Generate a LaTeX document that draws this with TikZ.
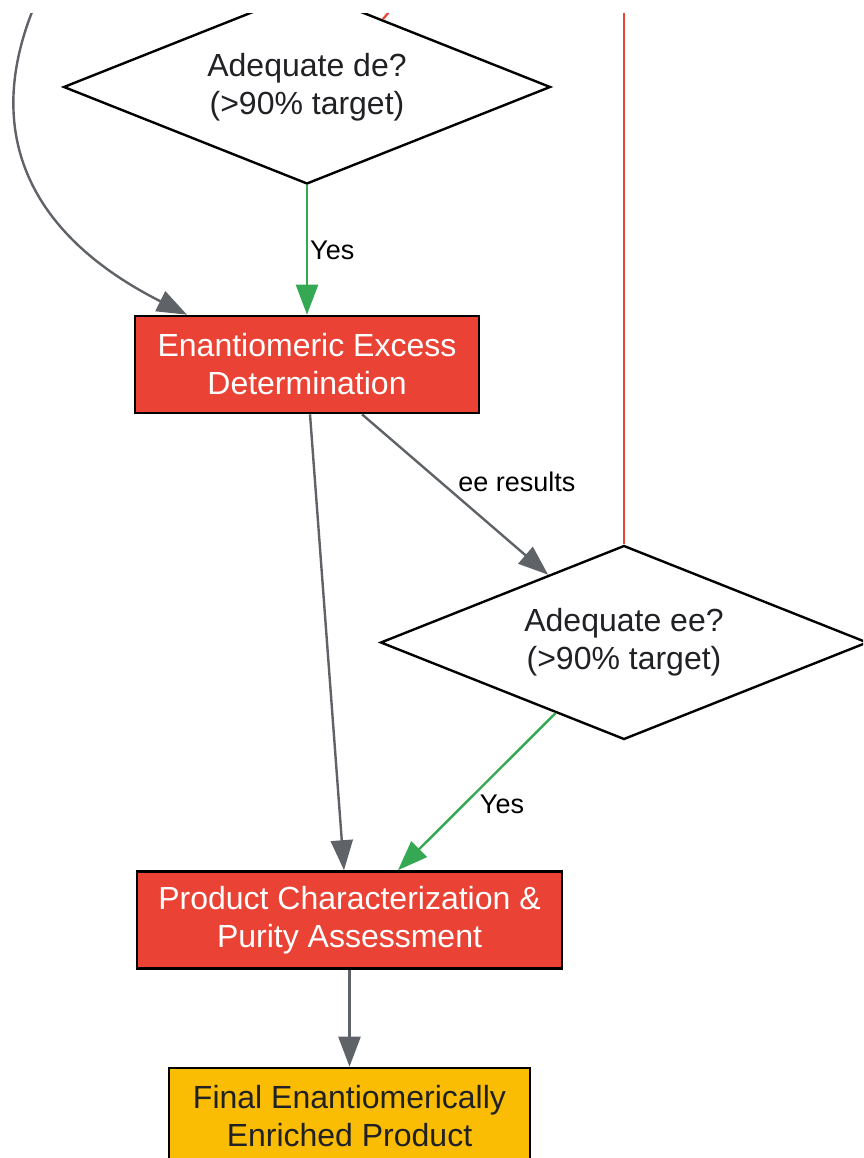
\documentclass[tikz,border=0pt]{standalone}
\usepackage{fontspec}
\setmainfont{Liberation Sans}
\usetikzlibrary{shapes.geometric,arrows.meta,calc}
\definecolor{gred}{HTML}{EA4335}
\definecolor{ggreen}{HTML}{34A853}
\definecolor{ggray}{HTML}{5F6368}
\definecolor{gyellow}{HTML}{FBBC04}
\definecolor{gtext}{HTML}{202124}
\tikzset{
  x=1pt, y=-1pt,
  nodefont/.style={font=\fontsize{32}{38}\selectfont, align=center},
  decision/.style={nodefont, diamond, draw=black, line width=2.4pt, fill=white, text=gtext,
    inner sep=0pt, aspect=2.5, minimum width=487pt, minimum height=194pt},
  redbox/.style={nodefont, rectangle, draw=black, line width=2.6pt, fill=gred, text=white,
    inner sep=0pt},
  yellowbox/.style={nodefont, rectangle, draw=black, line width=2.6pt, fill=gyellow, text=gtext,
    inner sep=0pt},
  tip/.style={-{Triangle[length=30pt,width=22pt]}},
  grayedge/.style={tip, draw=ggray, line width=2.4pt},
  greenedge/.style={tip, draw=ggreen, line width=2.4pt},
  rededge/.style={draw=gred, line width=2.2pt},
  elabel/.style={font=\fontsize{27}{32}\selectfont, text=black, inner sep=2pt},
}
\begin{document}
\begin{tikzpicture}
\useasboundingbox (0,0) rectangle (863,1158);
\begin{scope}
\clip (0,14) rectangle (863,1158);

\node[decision] (de) at (307,87) {Adequate de?\\(>90\% target)};
\node[redbox, minimum width=344pt, minimum height=97pt] (eed) at (307,364.5) {Enantiomeric Excess\\Determination};
\node[decision] (ee) at (624,642.5) {Adequate ee?\\(>90\% target)};
\node[redbox, minimum width=425pt, minimum height=97pt] (pc) at (349.5,920) {Product Characterization \&\\Purity Assessment};
\node[yellowbox, minimum width=361pt, minimum height=97pt] (fin) at (349.5,1116.5) {Final Enantiomerically\\Enriched Product};

\coordinate (curvestart) at (32,12);
\coordinate (redtop1) at (389,12);
\coordinate (redtop2) at (624,12);

% curve entering EED from the top left
\draw[grayedge] (curvestart) .. controls (-18,140) and (35,238) .. ([xshift=-120pt]eed.north);
% red branch touching the de diamond
\draw[rededge] (redtop1) -- ($(de.north)!0.31!(de.east)$);
% red branch leaving the ee diamond upwards
\draw[rededge] (ee.north) -- (redtop2);

\draw[greenedge] (de.south) -- node[elabel, anchor=west, pos=0.5] {Yes} (eed.north);
\draw[grayedge] ([xshift=3pt]eed.south) -- ([xshift=-5.5pt]pc.north);
\draw[grayedge] ([xshift=55pt]eed.south) -- node[elabel, anchor=south west, pos=0.5] {ee results} ($(ee.west)!0.69!(ee.north)$);
\draw[greenedge] ($(ee.west)!0.72!(ee.south)$) -- node[elabel, anchor=north west, pos=0.5] {Yes} ([xshift=48.5pt]pc.north);
\draw[grayedge] (pc.south) -- (fin.north);
\end{scope}
\end{tikzpicture}
\end{document}
